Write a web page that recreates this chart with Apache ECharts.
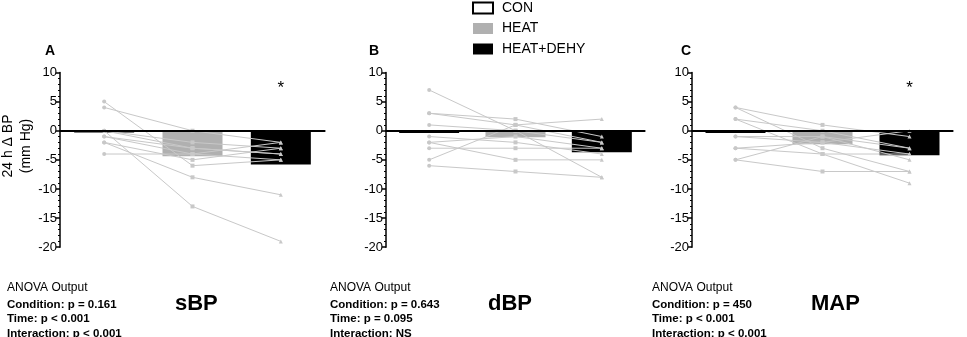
<!DOCTYPE html>
<html>
<head>
<meta charset="utf-8">
<script src="https://cdn.jsdelivr.net/npm/echarts@6/dist/echarts.min.js"></script>
<style>
  html, body { margin: 0; padding: 0; background: #fff; }
  #chart { width: 967px; height: 337px; }
</style>
</head>
<body>
<div id="chart"></div>
<script>
// conditions on the x axis
const conditions = ["CON", "HEAT", "HEAT+DEHY"];
const yTicks = [-20, -15, -10, -5, 0, 5, 10];

// group means (bars), 24 h change in mm Hg
const sbpMeans = [-0.3, -4.4, -5.8];
const dbpMeans = [-0.4, -1.1, -3.7];
const mapMeans = [-0.4, -2.3, -4.2];

// individual subjects: [CON, HEAT, HEAT+DEHY]
const sbpSubjects = [
  [5, -6, -5], [4, 0, -2], [0, -13, -19], [0, -2, -3], [0, -3, -4],
  [-1, -4, -2], [-2, -8, -11], [-2, -5, -3], [-4, -4, -5], [-1, -3, -4]
];
const dbpSubjects = [
  [7, 0, -8], [3, 2, -1], [3, 1, -2], [1, 0, -2], [-5, 1, 2],
  [-6, -7, -8], [-2, -5, -5], [-1, -2, -4], [-3, -3, -3], [-2, -1, -3]
];
const mapSubjects = [
  [4, 1, -1], [4, -3, -7], [2, -4, -9], [2, 0, -3], [-1, -1, -3],
  [-1, -2, -4], [-3, -2, 0], [-5, -1, -5], [-5, -7, -7], [-3, -4, -4]
];

// stars above HEAT+DEHY (null = none)
const starValue = [7.3, null, 7.3];

const FONT = "Liberation Sans, Arial, sans-serif";
const barColors = ["#ffffff", "#b0b0b0", "#000000"];
const symbols = ["circle", "rect", "triangle"];

const panels = [
  { means: sbpMeans, subjects: sbpSubjects, left: 60, width: 265 },
  { means: dbpMeans, subjects: dbpSubjects, left: 386, width: 259 },
  { means: mapMeans, subjects: mapSubjects, left: 692, width: 261 }
];

const grid = [], xAxis = [], yAxis = [], series = [];

panels.forEach((p, i) => {
  grid.push({ left: p.left, top: 72.5, width: p.width, height: 174.7 });
  xAxis.push({
    type: "category", gridIndex: i, data: conditions,
    axisLine: { lineStyle: { color: "#000", width: 1.5 } },
    axisTick: { alignWithLabel: true, length: 4, lineStyle: { color: "#000", width: 1.5 } },
    axisLabel: { show: false }, splitLine: { show: false }
  });
  yAxis.push({
    type: "value", gridIndex: i, min: yTicks[0], max: yTicks[yTicks.length - 1], interval: 5,
    axisLine: { show: true, lineStyle: { color: "#000", width: 1.5 } },
    axisTick: { show: true, length: 4, lineStyle: { color: "#000", width: 1.5 } },
    minorTick: { show: true, splitNumber: 5, length: 2, lineStyle: { color: "#000", width: 1 } },
    axisLabel: { color: "#000", fontSize: 13, fontFamily: FONT, margin: 3 },
    splitLine: { show: false }
  });

  conditions.forEach((c, k) => {
    const data = conditions.map((_, j) => (j === k ? p.means[j] : "-"));
    const s = {
      name: c, type: "bar", xAxisIndex: i, yAxisIndex: i,
      data: data, barWidth: 60, barGap: "-100%", z: 2,
      itemStyle: { color: barColors[k], borderColor: "#000", borderWidth: k === 0 ? 1.5 : 0 },
      emphasis: { disabled: true }
    };
    if (k === 0) {
      s.markLine = {
        silent: true, symbol: "none", z: 4,
        label: { show: false },
        lineStyle: { color: "#000", width: 2, type: "solid" },
        data: [{ yAxis: 0 }]
      };
    }
    if (k === 2 && starValue[i] !== null) {
      s.markPoint = {
        silent: true, symbol: "circle", symbolSize: 1,
        itemStyle: { color: "rgba(0,0,0,0)" },
        label: { show: true, position: "inside", formatter: "*", color: "#000", fontSize: 17, fontFamily: FONT },
        data: [{ coord: [2, starValue[i]] }]
      };
    }
    series.push(s);
  });

  p.subjects.forEach(vals => {
    series.push({
      type: "line", xAxisIndex: i, yAxisIndex: i, z: 3,
      data: vals.map((v, j) => ({ value: v, symbol: symbols[j] })),
      symbolSize: 4, showSymbol: true,
      lineStyle: { color: "#c8c8c8", width: 1 },
      itemStyle: { color: "#c8c8c8" },
      emphasis: { disabled: true }
    });
  });
});

const anova = [
  { x: 7, name: "sBP", nx: 175, lines: ["Condition: p = 0.161", "Time: p < 0.001", "Interaction: p < 0.001"] },
  { x: 330, name: "dBP", nx: 488, lines: ["Condition: p = 0.643", "Time: p = 0.095", "Interaction: NS"] },
  { x: 652, name: "MAP", nx: 811, lines: ["Condition: p = 450", "Time: p < 0.001", "Interaction: p < 0.001"] }
];

const graphic = [
  {
    type: "text", x: 17, y: 146, rotation: Math.PI / 2,
    style: { text: "24 h \u0394 BP\n(mm Hg)", font: "14px " + FONT, fill: "#000",
      align: "center", verticalAlign: "middle", lineHeight: 18.5 }
  }
];
[["A", 45], ["B", 369], ["C", 681]].forEach(l => {
  graphic.push({ type: "text", x: l[1], y: 51,
    style: { text: l[0], font: "bold 14px " + FONT, fill: "#000", verticalAlign: "middle" } });
});
anova.forEach(a => {
  graphic.push({ type: "text", x: a.x, y: 288,
    style: { text: "ANOVA Output", font: "12px " + FONT, fill: "#000", verticalAlign: "middle" } });
  a.lines.forEach((t, j) => {
    graphic.push({ type: "text", x: a.x, y: 305 + j * 14.3,
      style: { text: t, font: "bold 11.5px " + FONT, fill: "#000", verticalAlign: "middle" } });
  });
  graphic.push({ type: "text", x: a.nx, y: 304,
    style: { text: a.name, font: "bold 22px " + FONT, fill: "#000", verticalAlign: "middle" } });
});

const chart = echarts.init(document.getElementById("chart"));
chart.setOption({
  animation: false,
  backgroundColor: "#fff",
  legend: {
    data: conditions, orient: "vertical", left: 472, top: 1, padding: 0,
    itemWidth: 20, itemHeight: 11, itemGap: 6.5, icon: "rect",
    selectedMode: false,
    textStyle: { color: "#000", fontSize: 14, fontFamily: FONT, padding: [0, 0, 0, 4] }
  },
  grid: grid, xAxis: xAxis, yAxis: yAxis, series: series, graphic: graphic
});
</script>
</body>
</html>
